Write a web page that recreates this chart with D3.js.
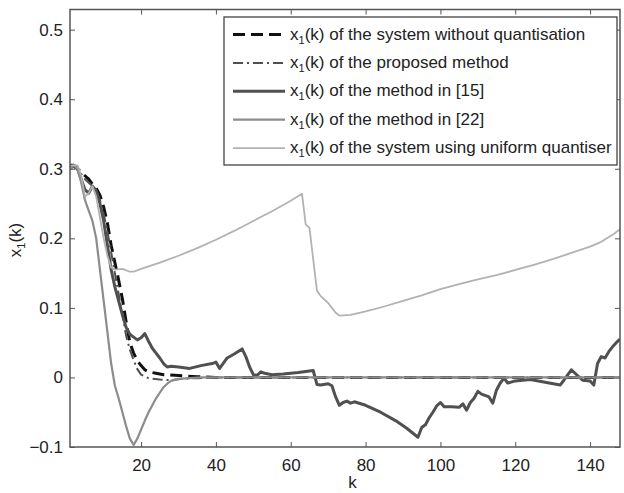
<!DOCTYPE html>
<html>
<head>
<meta charset="utf-8">
<script src="https://cdn.jsdelivr.net/npm/d3@7"></script>
<style>
  body { margin: 0; background: #fff; }
  svg { display: block; font-family: "Liberation Sans", Arial, Helvetica, sans-serif; }
</style>
</head>
<body>
<div class="chart"></div>
<script>
"use strict";

// x1(k) traces as [k, value]
const noQuant = [
  [1,0.305],[2,0.305],[3,0.3],[4,0.295],[5,0.29],[6,0.285],[7,0.278],[8,0.272],[9,0.262],
  [10,0.245],[11,0.222],[12,0.19],[13,0.165],[14,0.14],[15,0.113],[16,0.08],[17,0.05],
  [18,0.035],[19,0.024],[20,0.017],[21,0.011],[22,0.008],[24,0.006],[26,0.004],[29,0.003],
  [32,0.002],[35,0.001],[40,0],[148,0]
];
const proposed = [
  [1,0.305],[3,0.3],[5,0.285],[7,0.275],[8,0.27],[9,0.255],[10,0.235],[11,0.21],[12,0.18],
  [13,0.15],[14,0.12],[15,0.09],[16,0.06],[17,0.04],[18,0.025],[19,0.012],[20,0.004],
  [22,-0.001],[25,-0.003],[28,-0.004],[31,-0.002],[35,-0.001],[40,0],[148,0]
];
const method15 = [
  [1,0.3],[2,0.305],[3,0.3],[4,0.285],[5,0.27],[6,0.265],[7,0.275],[8,0.268],[9,0.25],
  [10,0.225],[11,0.19],[12,0.155],[13,0.13],[14,0.11],[15,0.09],[16,0.072],[17,0.062],
  [18,0.058],[19,0.054],[20,0.057],[21,0.063],[22,0.052],[23,0.042],[24,0.035],[25,0.028],
  [26,0.02],[27,0.015],[28,0.016],[30,0.015],[33,0.013],[36,0.017],[39,0.02],[40,0.022],
  [41,0.013],[43,0.028],[45,0.034],[47,0.041],[48,0.03],[49,0.015],[50,0.004],[51,0.003],
  [52,0.008],[53,0.006],[55,0.004],[58,0.005],[62,0.007],[66,0.01],[67,-0.01],[68,-0.011],
  [70,-0.009],[71,-0.012],[72,-0.028],[73,-0.04],[74,-0.036],[75,-0.034],[76,-0.037],
  [77,-0.035],[80,-0.04],[84,-0.05],[88,-0.062],[91,-0.073],[94,-0.086],[95,-0.072],
  [96,-0.068],[97,-0.058],[98,-0.05],[99,-0.041],[100,-0.036],[101,-0.042],[103,-0.042],
  [105,-0.043],[106,-0.038],[107,-0.047],[108,-0.036],[109,-0.03],[110,-0.02],[111,-0.024],
  [113,-0.028],[114,-0.037],[115,-0.018],[116,-0.008],[117,-0.001],[118,-0.008],[120,-0.005],
  [124,-0.003],[128,-0.007],[132,-0.011],[133,-0.004],[135,0.011],[137,0.001],[138,-0.004],
  [140,-0.005],[141,-0.011],[142,0.02],[143,0.03],[144,0.028],[145,0.037],[146,0.044],
  [147,0.05],[148,0.055]
];
const method22 = [
  [1,0.3],[2,0.305],[3,0.3],[4,0.28],[5,0.255],[6,0.24],[7,0.225],[8,0.2],[9,0.155],
  [10,0.11],[11,0.065],[12,0.02],[13,-0.012],[14,-0.03],[15,-0.05],[16,-0.07],[17,-0.088],
  [18,-0.097],[19,-0.088],[20,-0.075],[21,-0.062],[22,-0.05],[23,-0.04],[24,-0.03],
  [25,-0.022],[26,-0.014],[27,-0.009],[28,-0.005],[30,-0.002],[33,-0.001],[36,0],[148,0]
];
const uniformQ = [
  [1,0.305],[3,0.305],[4,0.29],[5,0.26],[6,0.265],[7,0.275],[8,0.26],[9,0.23],[10,0.2],
  [11,0.175],[12,0.158],[13,0.155],[15,0.156],[17,0.152],[18,0.152],[20,0.156],[25,0.165],
  [30,0.175],[35,0.186],[40,0.198],[45,0.211],[50,0.225],[55,0.239],[60,0.254],[63,0.264],
  [64,0.22],[65,0.215],[66,0.17],[67,0.125],[68,0.117],[70,0.107],[71,0.1],[72,0.093],
  [73,0.089],[76,0.09],[80,0.095],[85,0.102],[90,0.11],[95,0.118],[100,0.127],[105,0.134],
  [110,0.141],[115,0.147],[121,0.156],[125,0.162],[130,0.17],[135,0.179],[140,0.188],
  [143,0.195],[146,0.205],[148,0.213]
];

const legendLabels = [
  "of the system without quantisation",
  "of the proposed method",
  "of the method in [15]",
  "of the method in [22]",
  "of the system using uniform quantiser"
];
const xTicks = [20, 40, 60, 80, 100, 120, 140];
const yTicks = [-0.1, 0, 0.1, 0.2, 0.3, 0.4, 0.5];

const series = [
  {data: noQuant,  color: "#111",    width: 3,   dash: "12,6"},
  {data: proposed, color: "#505050", width: 2,   dash: "10,4,2,4"},
  {data: method15, color: "#505050", width: 3,   dash: null},
  {data: method22, color: "#8c8c8c", width: 2.2, dash: null},
  {data: uniformQ, color: "#b2b2b2", width: 1.8, dash: null}
];

const W = 624, H = 493;
const margin = {top: 9.5, right: 4, bottom: 46, left: 70};
const width = W - margin.left - margin.right;
const height = H - margin.top - margin.bottom;

const svg = d3.select(".chart").append("svg")
    .attr("width", W)
    .attr("height", H);

const g = svg.append("g")
    .attr("transform", "translate(" + margin.left + "," + margin.top + ")");

const x = d3.scaleLinear().domain([1, 148]).range([0, width]);
const y = d3.scaleLinear().domain([-0.1, 0.529]).range([height, 0]);

const fmt = d => d < 0 ? "\u2212" + Math.abs(d) : String(d);

function styleAxis(sel) {
    sel.select(".domain").remove();
    sel.selectAll(".tick line").attr("stroke", "#555").attr("stroke-width", 1);
    sel.selectAll(".tick text").attr("fill", "#222").style("font-size", "17px");
}

g.append("g")
    .attr("transform", "translate(0," + height + ")")
    .call(d3.axisBottom(x).tickValues(xTicks).tickSize(-5).tickPadding(12))
    .call(styleAxis);
g.append("g")
    .call(d3.axisTop(x).tickValues(xTicks).tickSize(-5).tickFormat(""))
    .call(styleAxis);
g.append("g")
    .call(d3.axisLeft(y).tickValues(yTicks).tickSize(-5).tickPadding(7).tickFormat(fmt))
    .call(styleAxis);
g.append("g")
    .attr("transform", "translate(" + width + ",0)")
    .call(d3.axisRight(y).tickValues(yTicks).tickSize(-5).tickFormat(""))
    .call(styleAxis);

g.append("defs").append("clipPath").attr("id", "clip")
    .append("rect").attr("width", width).attr("height", height);

const line = d3.line().x(d => x(d[0])).y(d => y(d[1]));

g.append("g").attr("clip-path", "url(#clip)")
    .selectAll("path")
    .data(series)
    .join("path")
    .attr("d", s => line(s.data))
    .attr("fill", "none")
    .attr("stroke", s => s.color)
    .attr("stroke-width", s => s.width)
    .attr("stroke-dasharray", s => s.dash)
    .attr("stroke-linejoin", "round");

// frame
g.append("rect")
    .attr("width", width).attr("height", height)
    .attr("fill", "none").attr("stroke", "#555").attr("stroke-width", 1.5);

// axis titles
svg.append("text")
    .attr("x", margin.left + x(76.5)).attr("y", 488)
    .attr("text-anchor", "middle").attr("fill", "#222")
    .style("font-size", "17px").text("k");

const yl = svg.append("text")
    .attr("transform", "translate(21,240) rotate(-90)")
    .attr("text-anchor", "middle").attr("fill", "#222")
    .style("font-size", "17px");
yl.append("tspan").text("x");
yl.append("tspan").attr("dy", 4).style("font-size", "11px").text("1");
yl.append("tspan").attr("dy", -4).text("(k)");

// legend
const legend = svg.append("g");
legend.append("rect")
    .attr("x", 224).attr("y", 17).attr("width", 393).attr("height", 148)
    .attr("fill", "#fff").attr("stroke", "#444").attr("stroke-width", 1.3);

const rows = legend.selectAll("g.row")
    .data(series)
    .join("g")
    .attr("class", "row")
    .attr("transform", (s, i) => "translate(0," + (34.5 + i * 28.4) + ")");

rows.append("line")
    .attr("x1", 233).attr("x2", 285)
    .attr("stroke", s => s.color)
    .attr("stroke-width", s => s.width)
    .attr("stroke-dasharray", s => s.dash);

const lt = rows.append("text")
    .attr("x", 290).attr("y", 5)
    .attr("fill", "#222").style("font-size", "17px");
lt.append("tspan").text("x");
lt.append("tspan").attr("dy", 4).style("font-size", "11px").text("1");
lt.append("tspan").attr("dy", -4).text((s, i) => "(k) " + legendLabels[i]);
</script>
</body>
</html>
